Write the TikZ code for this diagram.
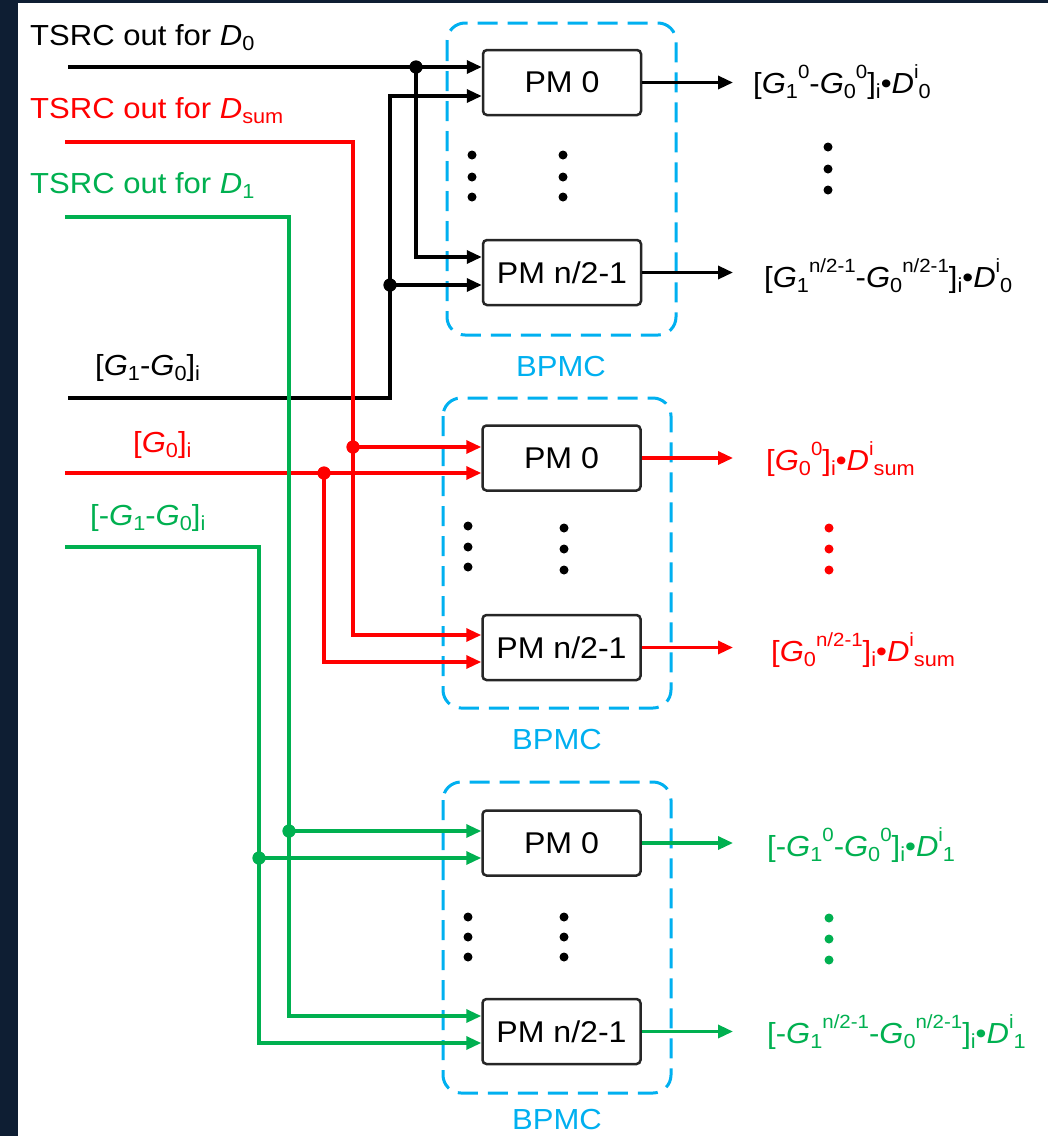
\documentclass[tikz,border=0pt]{standalone}
\usepackage{fontspec}
\usepackage{graphicx}
\setmainfont{Liberation Sans}[FakeStretch=1.07]
\usetikzlibrary{arrows.meta,calc}
\definecolor{bg}{HTML}{0E1E33}
\definecolor{myred}{HTML}{FF0000}
\definecolor{mygreen}{HTML}{00B050}
\definecolor{mycyan}{HTML}{00B0F0}
\newcommand\Sb[1]{\raisebox{-0.2em}{\scalebox{0.7}{#1}}}
\newcommand\Sp[1]{\raisebox{0.5em}{\scalebox{0.66}{#1}}}
\begin{document}
\begin{tikzpicture}[x=1pt,y=-1pt,
  lab/.style={font=\fontsize{29}{34}\selectfont, inner sep=0pt, anchor=base west},
  pmbox/.style={draw=black!85, line width=2.5pt, rounded corners=4pt, fill=white,
    minimum width=158pt, minimum height=65pt, inner sep=0pt, font=\fontsize{30}{34}\selectfont},
  grp/.style={draw=mycyan, line width=3pt, dash pattern=on 20pt off 10pt, rounded corners=18pt},
  grplab/.style={text=mycyan, font=\fontsize{29}{34}\selectfont, inner sep=0pt},
  wire/.style={line width=3.3pt, -{Triangle[length=15pt,width=13pt]}},
  jdot/.style={circle, fill, inner sep=0pt, minimum size=13pt},
]
\useasboundingbox (0,0) rectangle (1048,1136);
\fill[bg] (0,0) rectangle (1048,1136);
\fill[white] (18,3) rectangle (1048,1136);

% groups
\draw[grp] (447,23) rectangle (676,335);
\draw[grp] (443,398) rectangle (671,708);
\draw[grp] (443,782) rectangle (671,1093);
\node[grplab] (gB) at (561,367) {BPMC};
\node[grplab] (gR) at (557,740) {BPMC};
\node[grplab] (gG) at (557,1120) {BPMC};

% PM boxes
\node[pmbox] (b0) at (562,82.5) {PM 0};
\node[pmbox] (bn) at (562,272.5) {PM n/2-1};
\node[pmbox] (r0) at (561.5,458) {PM 0};
\node[pmbox] (rn) at (561.5,647.5) {PM n/2-1};
\node[pmbox] (g0) at (561.5,843) {PM 0};
\node[pmbox] (gn) at (561.5,1031.5) {PM n/2-1};

% starts
\coordinate (sD0) at (68,67);
\coordinate (sGb) at (68,398);
\coordinate (sDs) at (65,142);
\coordinate (sGr) at (65,473);
\coordinate (sD1) at (65,217);
\coordinate (sGg) at (65,547);

% ports
\coordinate (b0i1) at (b0.west |- 0,67);
\coordinate (b0i2) at (b0.west |- 0,96);
\coordinate (bni1) at (bn.west |- 0,257);
\coordinate (bni2) at (bn.west |- 0,285);
\coordinate (r0i1) at (r0.west |- 0,447);
\coordinate (r0i2) at (r0.west |- 0,473);
\coordinate (rni1) at (rn.west |- 0,635);
\coordinate (rni2) at (rn.west |- 0,662);
\coordinate (g0i1) at (g0.west |- 0,831);
\coordinate (g0i2) at (g0.west |- 0,858);
\coordinate (gni1) at (gn.west |- 0,1016);
\coordinate (gni2) at (gn.west |- 0,1043);

% junctions
\node[jdot, black] (jB1) at (416,67) {};
\node[jdot, black] (jB2) at (390,285) {};
\node[jdot, myred] (jR1) at (353,447) {};
\node[jdot, myred] (jR2) at (324,473) {};
\node[jdot, mygreen] (jG1) at (289,831) {};
\node[jdot, mygreen] (jG2) at (259,858) {};

% black wires
\draw[wire, black] (sD0) -- (b0i1);
\draw[wire, black] (jB1.center) |- (bni1);
\draw[wire, black] (sGb) -| (jB2.center) |- (b0i2);
\draw[wire, black] (jB2.center) -- (bni2);
% red wires
\draw[wire, myred] (sDs) -| (jR1.center) |- (rni1);
\draw[wire, myred] (jR1.center) -- (r0i1);
\draw[wire, myred] (sGr) -- (r0i2);
\draw[wire, myred] (jR2.center) |- (rni2);
% green wires
\draw[wire, mygreen] (sD1) -| (jG1.center) |- (gni1);
\draw[wire, mygreen] (jG1.center) -- (g0i1);
\draw[wire, mygreen] (sGg) -| (jG2.center) |- (gni2);
\draw[wire, mygreen] (jG2.center) -- (g0i2);

% redraw junction dots on top
\foreach \n/\c in {jB1/black,jB2/black,jR1/myred,jR2/myred,jG1/mygreen,jG2/mygreen}
  \fill[\c] (\n.center) circle (6.5pt);

% outputs
\coordinate (ox) at (733,0);
\draw[wire, black] (b0.east) -- (b0.east -| ox);
\draw[wire, black] (bn.east) -- (bn.east -| ox);
\draw[wire, myred] (r0.east) -- (r0.east -| ox);
\draw[wire, myred] (rn.east) -- (rn.east -| ox);
\draw[wire, mygreen] (g0.east) -- (g0.east -| ox);
\draw[wire, mygreen] (gn.east) -- (gn.east -| ox);

% ellipsis dots
\foreach \x/\ya/\yb/\yc/\c in {472/155/177/197/black, 563/155/177/197/black, 828/147/169/190/black,
  468/526/547/567/black, 564/528/549/570/black, 829/528/549/570/myred,
  468/917/937/957/black, 564/917/937/957/black, 829/918/939/960/mygreen}
  \foreach \y in {\ya,\yb,\yc} \fill[\c] (\x,\y) circle (4.5pt);

% left labels
\node[lab] (tD0) at (30,45) {TSRC out for \textit{D}\Sb{0}};
\node[lab, text=myred] (tDs) at (30,118) {TSRC out for \textit{D}\Sb{sum}};
\node[lab, text=mygreen] (tD1) at (30,193) {TSRC out for \textit{D}\Sb{1}};
\node[lab] (tGb) at (95,375) {[\textit{G}\Sb{1}-\textit{G}\Sb{0}]\Sb{i}};
\node[lab, text=myred] (tGr) at (133,452) {[\textit{G}\Sb{0}]\Sb{i}};
\node[lab, text=mygreen] (tGg) at (90,525) {[-\textit{G}\Sb{1}-\textit{G}\Sb{0}]\Sb{i}};

% right labels
\node[lab] (oB0) at (753,93) {[\textit{G}\Sb{1}\Sp{0}-\textit{G}\Sb{0}\Sp{0}]\Sb{i}•\textit{D}\Sp{i}\Sb{0}};
\node[lab] (oBn) at (764,287) {[\textit{G}\Sb{1}\Sp{n/2-1}-\textit{G}\Sb{0}\Sp{n/2-1}]\Sb{i}•\textit{D}\Sp{i}\Sb{0}};
\node[lab, text=myred] (oR0) at (766,470) {[\textit{G}\Sb{0}\Sp{0}]\Sb{i}•\textit{D}\Sp{i}\Sb{sum}};
\node[lab, text=myred] (oRn) at (771,661) {[\textit{G}\Sb{0}\Sp{n/2-1}]\Sb{i}•\textit{D}\Sp{i}\Sb{sum}};
\node[lab, text=mygreen] (oG0) at (767,856) {[-\textit{G}\Sb{1}\Sp{0}-\textit{G}\Sb{0}\Sp{0}]\Sb{i}•\textit{D}\Sp{i}\Sb{1}};
\node[lab, text=mygreen] (oGn) at (767,1043) {[-\textit{G}\Sb{1}\Sp{n/2-1}-\textit{G}\Sb{0}\Sp{n/2-1}]\Sb{i}•\textit{D}\Sp{i}\Sb{1}};
\end{tikzpicture}
\end{document}
